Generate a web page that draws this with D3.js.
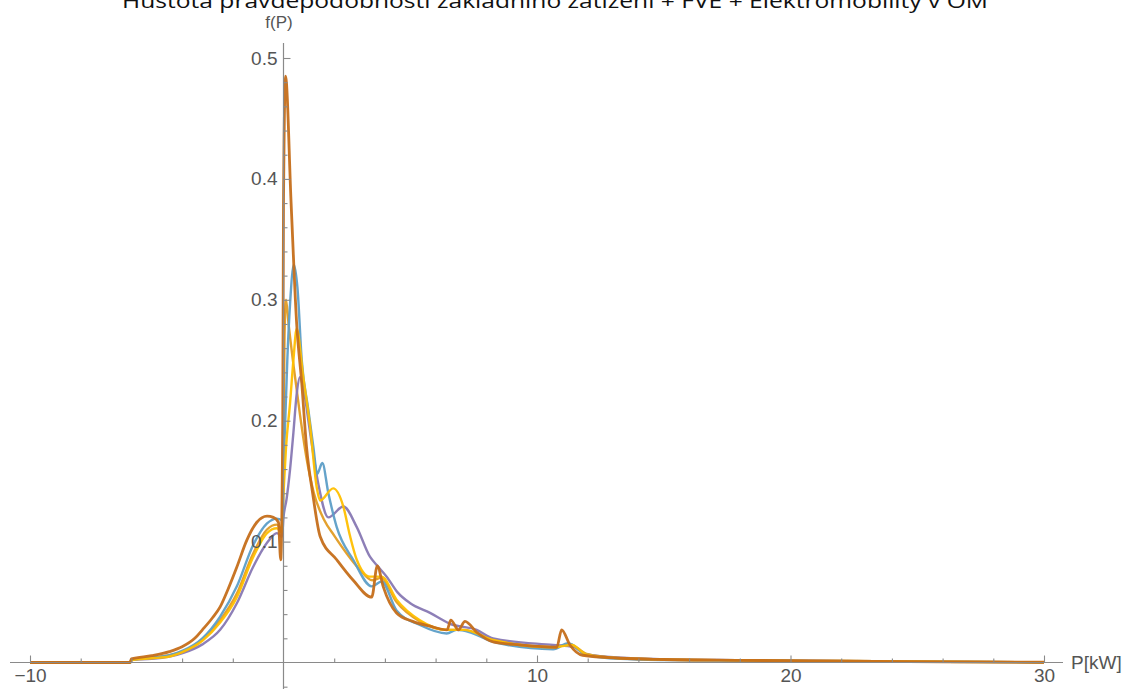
<!DOCTYPE html>
<html>
<head>
<meta charset="utf-8">
<script src="https://cdn.jsdelivr.net/npm/d3@7"></script>
<style>
html,body{margin:0;padding:0;background:#fff;}
svg{display:block;}
</style>
</head>
<body>
<svg id="chart" width="1130" height="689"></svg>
<script>
// ---------- DATA ----------
const titleText = "Hustota pravděpodobnosti základního zatížení + FVE + Elektromobility v OM";
const xLabel = "P[kW]";
const yLabel = "f(P)";
const xMajorTicks = [-10, 10, 20, 30];
const xTickLabels = ["\u221210", "10", "20", "30"];
const yMajorTicks = [0.1, 0.2, 0.3, 0.4, 0.5];
const yTickLabels = ["0.1", "0.2", "0.3", "0.4", "0.5"];

const seriesNames = ["lightOrange", "purple", "blue", "yellow", "darkOrange"];
const seriesColors = ["#E19C24", "#8778B3", "#5D9EC7", "#FFBF00", "#C56E1A"];

const lightOrangeP = [-10,-6.05,-6,-5.2,-4.5,-3.95,-3.2,-2.5,-1.84,-1.2,-0.65,-0.26,-0.08,-0.02,0.04,0.1,0.2,0.4,0.65,0.9,1.2,1.6,2.0,2.5,3.0,3.5,3.85,4.46,5.38,6.44,7.1,8.27,10.64,11.3,11.96,13.3,15,18,22,26,30];
const lightOrangeV = [0,0,0.002,0.004,0.006,0.009,0.019,0.035,0.057,0.09,0.11,0.114,0.11,0.15,0.27,0.30,0.28,0.245,0.205,0.17,0.14,0.118,0.105,0.09,0.077,0.068,0.07,0.05,0.034,0.027,0.027,0.019,0.013,0.015,0.007,0.0035,0.0025,0.0018,0.0012,0.0006,0.0002];

const purpleP = [-10,-6.05,-6,-5.2,-4.5,-3.95,-3.2,-2.5,-1.84,-1.2,-0.65,-0.26,-0.06,0.0,0.12,0.26,0.39,0.52,0.65,0.8,1.05,1.37,1.77,2.36,2.89,3.41,3.7,4.07,4.5,5.0,5.78,6.57,7.62,8.27,10.64,11.43,11.96,13.3,15,18,22,26,30];
const purpleV = [0,0,0.002,0.003,0.005,0.008,0.015,0.027,0.049,0.079,0.099,0.107,0.104,0.12,0.135,0.16,0.19,0.222,0.236,0.225,0.19,0.148,0.12,0.129,0.112,0.0875,0.08,0.071,0.058,0.049,0.041,0.032,0.027,0.02,0.0145,0.013,0.0066,0.004,0.0028,0.002,0.0013,0.0007,0.0002];

const blueP = [-10,-6.05,-6,-5.2,-4.5,-3.95,-3.2,-2.5,-1.84,-1.2,-0.65,-0.26,-0.08,-0.02,0.0,0.06,0.15,0.26,0.41,0.55,0.72,0.98,1.18,1.33,1.53,1.77,2.1,2.75,3.48,3.87,4.46,5.38,6.44,6.83,7.36,8.27,10.64,11.23,11.96,13.3,15,18,22,26,30];
const blueV = [0,0,0.002,0.004,0.006,0.010,0.02,0.038,0.063,0.097,0.115,0.119,0.118,0.12,0.15,0.195,0.25,0.297,0.329,0.31,0.25,0.209,0.178,0.156,0.165,0.14,0.112,0.085,0.063,0.067,0.043,0.031,0.024,0.027,0.025,0.017,0.011,0.016,0.006,0.003,0.002,0.0015,0.001,0.0005,0.0002];

const yellowP = [-10,-6.05,-6,-5.2,-4.5,-3.95,-3.2,-2.5,-1.84,-1.2,-0.65,-0.26,-0.08,0.0,0.1,0.26,0.39,0.52,0.78,1.05,1.31,1.44,1.96,2.36,2.62,2.89,3.41,3.87,4.46,5.38,6.44,7.1,8.27,10.64,11.37,11.96,13.3,15,18,22,26,30];
const yellowV = [0,0,0.002,0.0035,0.005,0.009,0.018,0.033,0.054,0.087,0.107,0.111,0.108,0.14,0.178,0.215,0.25,0.276,0.236,0.195,0.145,0.134,0.144,0.129,0.105,0.085,0.071,0.071,0.052,0.035,0.027,0.027,0.0186,0.0126,0.0145,0.0066,0.0035,0.0025,0.0018,0.0012,0.0006,0.0002];

const darkOrangeP = [-10,-6.05,-6,-5.2,-4.5,-4,-3.5,-3.2,-2.8,-2.5,-2.2,-1.84,-1.45,-1.05,-0.65,-0.4,-0.2,-0.11,-0.03,0.0,0.08,0.3,0.52,0.72,0.91,1.15,1.45,2.1,2.75,3.48,3.7,3.93,4.46,5.1,5.78,6.45,6.6,6.9,7.16,7.62,8.27,9.33,10.78,10.97,11.3,11.8,13.3,15,18,22,26,30];
const darkOrangeV = [0,0,0.003,0.0056,0.009,0.013,0.02,0.027,0.037,0.046,0.06,0.079,0.101,0.116,0.121,0.12,0.116,0.085,0.2,0.38,0.485,0.38,0.28,0.231,0.178,0.14,0.104,0.085,0.068,0.054,0.08,0.063,0.041,0.034,0.030,0.027,0.035,0.027,0.034,0.025,0.017,0.0145,0.0126,0.027,0.0145,0.006,0.0035,0.0025,0.0018,0.0012,0.0006,0.0002];

const seriesP = [lightOrangeP, purpleP, blueP, yellowP, darkOrangeP];
const seriesV = [lightOrangeV, purpleV, blueV, yellowV, darkOrangeV];

// ---------- SCALES ----------
const svg = d3.select("#chart");
const x = d3.scaleLinear().domain([-10, 30]).range([30, 1044]);
const y = d3.scaleLinear().domain([0, 0.5]).range([662.5, 58]);

const axisColor = "#8a8a8a";
const labelColor = "#555555";
const font = "'Liberation Sans', Arial, sans-serif";

// ---------- TITLE ----------
svg.append("text")
  .attr("x", 555).attr("y", 8)
  .attr("text-anchor", "middle")
  .attr("font-family", "'Open Sans', sans-serif")
  .attr("font-size", 20)
  .attr("fill", "#111")
  .attr("textLength", 866)
  .attr("lengthAdjust", "spacingAndGlyphs")
  .text(titleText);

// ---------- CURVES ----------
const line = d3.line().x(d => x(d[0])).y(d => y(d[1])).curve(d3.curveMonotoneX);
const gLines = svg.append("g");
seriesNames.forEach((name, i) => {
  const pts = seriesP[i].map((p, j) => [p, seriesV[i][j]]);
  gLines.append("path")
    .datum(pts)
    .attr("d", line)
    .attr("fill", "none")
    .attr("stroke", seriesColors[i])
    .attr("stroke-width", name === "darkOrange" ? 2.8 : 2.4)
    .attr("stroke-linejoin", "round")
    .attr("stroke-opacity", 0.95);
});

// ---------- AXES ----------
const x0 = x(0), y0 = y(0);
svg.append("line").attr("x1", 10).attr("x2", 1063).attr("y1", y0).attr("y2", y0)
  .attr("stroke", axisColor).attr("stroke-width", 1.2);
svg.append("line").attr("x1", x0).attr("x2", x0).attr("y1", 43).attr("y2", 689)
  .attr("stroke", axisColor).attr("stroke-width", 1.2);

const xMinor = d3.range(-10, 31, 2).filter(v => v !== 0 && !xMajorTicks.includes(v));
const gxMinor = svg.append("g").attr("transform", `translate(0,${y0})`)
  .call(d3.axisBottom(x).tickValues(xMinor).tickSize(-4).tickFormat(""));
const gx = svg.append("g").attr("transform", `translate(0,${y0})`)
  .call(d3.axisBottom(x).tickValues(xMajorTicks).tickSize(-7).tickPadding(6)
    .tickFormat((d, i) => xTickLabels[i]));

const yMinor = d3.range(-1, 26).map(k => +(k * 0.02).toFixed(2)).filter(v => v !== 0 && !yMajorTicks.some(m => Math.abs(m - v) < 1e-9));
const gyMinor = svg.append("g").attr("transform", `translate(${x0},0)`)
  .call(d3.axisLeft(y).tickValues(yMinor).tickSize(-4).tickFormat(""));
const gy = svg.append("g").attr("transform", `translate(${x0},0)`)
  .call(d3.axisLeft(y).tickValues(yMajorTicks).tickSize(-7).tickPadding(6)
    .tickFormat((d, i) => yTickLabels[i]));

[gxMinor, gx, gyMinor, gy].forEach(g => {
  g.select(".domain").remove();
  g.selectAll(".tick line").attr("stroke", axisColor).attr("stroke-width", 1.1);
  g.selectAll(".tick text").attr("fill", labelColor).attr("font-family", font).attr("font-size", 19);
});

svg.append("text").attr("x", 1071).attr("y", y0 + 6)
  .attr("font-family", font).attr("font-size", 19).attr("fill", labelColor)
  .text(xLabel);
svg.append("text").attr("x", 279).attr("y", 28).attr("text-anchor", "middle")
  .attr("font-family", font).attr("font-size", 17).attr("fill", labelColor)
  .text(yLabel);
</script>
</body>
</html>
